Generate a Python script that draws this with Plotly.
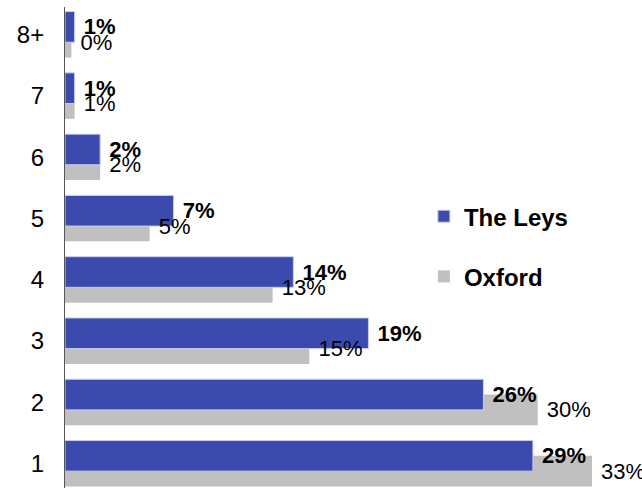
import plotly.graph_objects as go

# bands, bottom to top
bands = ["1", "2", "3", "4", "5", "6", "7", "8+"]
leys = [29.3, 26.2, 19.0, 14.3, 6.8, 2.2, 0.6, 0.6]
oxford = [33.0, 29.6, 15.3, 13.0, 5.3, 2.2, 0.6, 0.4]

pos = list(range(len(bands)))
font = "Arial, Liberation Sans, sans-serif"

fig = go.Figure()
# grey first so the blue sits on top
fig.add_trace(go.Bar(
    y=pos, x=oxford, orientation="h", name="<b>Oxford</b>",
    offset=-0.375, width=0.5,
    marker=dict(color="#c0c0c0", line=dict(width=0)),
    legendgroup="b", legendrank=2,
))
fig.add_trace(go.Bar(
    y=pos, x=leys, orientation="h", name="<b>The Leys</b>",
    offset=-0.125, width=0.5,
    marker=dict(color="#3a4bad", line=dict(color="#c8cdf0", width=1)),
    texttemplate=" <b>%{x:.0f}%</b>", textposition="outside",
    textfont=dict(family=font, size=22, color="#000"),
    constraintext="none", cliponaxis=False,
    legendgroup="a", legendrank=1,
))
# oxford labels again, on top of the blue bars
fig.add_trace(go.Bar(
    y=pos, x=oxford, orientation="h", showlegend=False, hoverinfo="skip",
    offset=-0.375, width=0.5,
    marker=dict(color="rgba(0,0,0,0)", line=dict(width=0)),
    texttemplate=" %{x:.0f}%", textposition="outside",
    textfont=dict(family=font, size=22, color="#000"),
    constraintext="none", cliponaxis=False,
))

fig.update_layout(
    width=642, height=488,
    margin=dict(l=65, r=0, t=7, b=0),
    barmode="overlay",
    plot_bgcolor="white", paper_bgcolor="white",
    font=dict(family=font, color="#000"),
    legend=dict(x=0.622, y=0.611, xanchor="left", yanchor="top",
                font=dict(size=24, color="#000"), tracegroupgap=26,
                bgcolor="rgba(0,0,0,0)"),
)
fig.update_xaxes(range=[0, 36.13], visible=False, showgrid=False,
                 zeroline=False, automargin=False)
fig.update_yaxes(range=[-0.4, 7.45], tickvals=pos, ticktext=bands,
                 showline=True, linecolor="#555", linewidth=1,
                 showgrid=False, zeroline=False, ticks="",
                 ticklabelstandoff=15, automargin=False,
                 tickfont=dict(family=font, size=24, color="#000"))

fig.write_html("out.html", config={"displayModeBar": False},
               post_script="document.body.style.margin='0';")
